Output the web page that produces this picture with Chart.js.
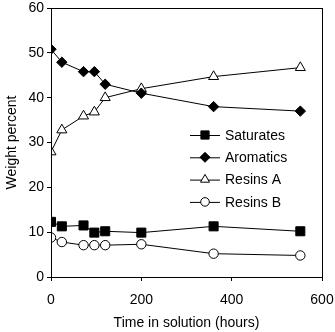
<!DOCTYPE html>
<html>
<head>
<meta charset="utf-8">
<script src="https://cdn.jsdelivr.net/npm/chart.js@4"></script>
<style>
  html, body { margin: 0; padding: 0; background: #fff; }
  #wrap { width: 335px; height: 332px; }
</style>
</head>
<body>
<div id="wrap"><canvas id="chart" width="335" height="332"></canvas></div>
<script>
// --- Data ---
const hours = [0, 24, 72, 96, 120, 200, 360, 552];
const saturates = [12.3, 11.3, 11.5, 9.9, 10.2, 9.9, 11.3, 10.2];
const aromatics = [50.8, 47.9, 45.8, 45.8, 43.0, 41.0, 38.0, 37.0];
const resinsA = [27.9, 32.8, 35.9, 36.8, 40.0, 42.0, 44.7, 46.7];
const resinsB = [8.8, 7.8, 7.1, 7.1, 7.1, 7.3, 5.2, 4.8];
const seriesNames = ["Saturates", "Aromatics", "Resins A", "Resins B"];
const xTicks = [0, 200, 400, 600];
const yTicks = [0, 10, 20, 30, 40, 50, 60];

const FONT = "'Liberation Sans', Arial, sans-serif";

const toPoints = vals => vals.map((v, i) => ({ x: hours[i], y: v }));

const styles = [
  { pointStyle: "rect", radius: 6.4, legendRadius: 5.8, fill: "#000" },
  { pointStyle: "rectRot", radius: 5.2, legendRadius: 5, fill: "#000" },
  { pointStyle: "triangle", radius: 5.8, legendRadius: 5.2, fill: "#fff" },
  { pointStyle: "circle", radius: 4.7, legendRadius: 4.3, fill: "#fff" }
];

const datasets = [saturates, aromatics, resinsA, resinsB].map((vals, i) => ({
  label: seriesNames[i],
  data: toPoints(vals),
  borderColor: "#000",
  borderWidth: 1,
  pointStyle: styles[i].pointStyle,
  pointRadius: styles[i].radius,
  pointBackgroundColor: styles[i].fill,
  pointBorderColor: "#000",
  pointBorderWidth: 1,
  tension: 0
}));

// frame round the plot area
const framePlugin = {
  id: "frame",
  afterDraw(chart) {
    const { ctx, chartArea: a } = chart;
    ctx.save();
    ctx.strokeStyle = "#000";
    ctx.lineWidth = 1;
    ctx.strokeRect(Math.round(a.left) + 0.5, Math.round(a.top) + 0.5,
      Math.round(a.right - a.left), Math.round(a.bottom - a.top));
    ctx.restore();
  }
};

// legend inside the plot, line-through markers
const legendPlugin = {
  id: "insideLegend",
  afterDatasetsDraw(chart) {
    const { ctx } = chart;
    const x0 = 190, y0 = 135, step = 22.3;
    ctx.save();
    chart.data.datasets.forEach((ds, i) => {
      const y = y0 + i * step;
      ctx.strokeStyle = "#000";
      ctx.lineWidth = 1;
      ctx.beginPath();
      ctx.moveTo(x0, y + 0.5);
      ctx.lineTo(x0 + 30, y + 0.5);
      ctx.stroke();
      ctx.fillStyle = styles[i].fill;
      Chart.helpers.drawPoint(ctx, {
        pointStyle: styles[i].pointStyle,
        radius: styles[i].legendRadius,
        borderWidth: 1,
        rotation: 0
      }, x0 + 15, y);
      ctx.fillStyle = "#000";
      ctx.font = "14px " + FONT;
      ctx.textBaseline = "middle";
      ctx.textAlign = "left";
      ctx.fillText(ds.label, x0 + 35, y + 1);
    });
    ctx.restore();
  }
};

new Chart(document.getElementById("chart"), {
  type: "line",
  data: { datasets },
  options: {
    responsive: false,
    animation: false,
    layout: { padding: { top: 8, right: 13, left: 0, bottom: 0 } },
    plugins: { legend: { display: false }, tooltip: { enabled: false } },
    scales: {
      x: {
        type: "linear",
        min: 0, max: 600,
        afterBuildTicks: s => { s.ticks = xTicks.map(v => ({ value: v })); },
        afterFit: s => { s.height = 55; s.paddingLeft = 0; s.paddingRight = 0; },
        grid: { drawOnChartArea: false, drawTicks: true, tickLength: 4, color: "#000" },
        border: { display: true, color: "#000", width: 1 },
        ticks: { color: "#000", font: { family: FONT, size: 14 }, padding: 11, maxRotation: 0 },
        title: { display: true, text: "Time in solution (hours)", color: "#000",
          font: { family: FONT, size: 14 }, padding: { top: 4, bottom: 0 } }
      },
      y: {
        min: 0, max: 60,
        afterBuildTicks: s => { s.ticks = yTicks.map(v => ({ value: v })); },
        afterFit: s => { s.width = 51; s.paddingTop = 0; s.paddingBottom = 0; },
        grid: { drawOnChartArea: false, drawTicks: true, tickLength: 4, color: "#000" },
        border: { display: true, color: "#000", width: 1 },
        ticks: { color: "#000", font: { family: FONT, size: 14 }, padding: 3 },
        title: { display: true, text: "Weight percent", color: "#000",
          font: { family: FONT, size: 14 }, padding: { bottom: 2 } }
      }
    }
  },
  plugins: [framePlugin, legendPlugin]
});
</script>
</body>
</html>
